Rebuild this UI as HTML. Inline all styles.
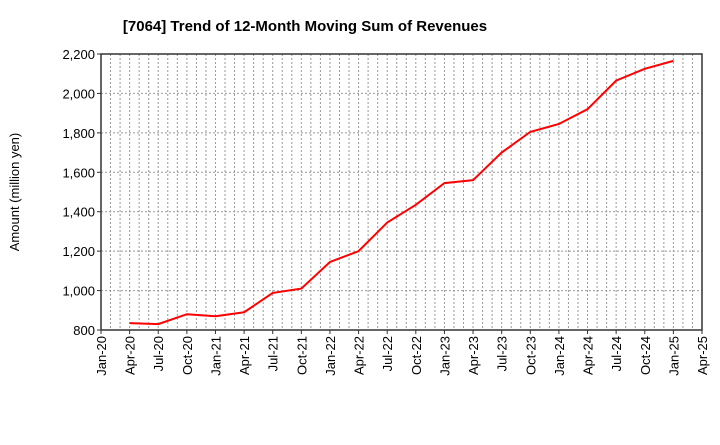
<!DOCTYPE html>
<html><head><meta charset="utf-8"><style>body{margin:0;background:#fff}svg text{font-family:"Liberation Sans",sans-serif}</style></head>
<body>
<svg id="c" width="720" height="440">
<text x="305" y="31" text-anchor="middle" font-size="15" font-weight="bold">[7064]  Trend of 12-Month Moving Sum of Revenues</text>
<text transform="translate(19,192) rotate(-90)" text-anchor="middle" font-size="13">Amount (million yen)</text>
<g id="g"></g>
</svg>
<script>
const xLabels=["Jan-20","Apr-20","Jul-20","Oct-20","Jan-21","Apr-21","Jul-21","Oct-21","Jan-22","Apr-22","Jul-22","Oct-22","Jan-23","Apr-23","Jul-23","Oct-23","Jan-24","Apr-24","Jul-24","Oct-24","Jan-25","Apr-25"];
const yTicks=[800,1000,1200,1400,1600,1800,2000,2200];
const values=[835,830,880,870,890,988,1010,1145,1200,1345,1435,1545,1560,1700,1805,1845,1920,2065,2125,2165];
const L=101,R=702,T=54,B=330,ns="http://www.w3.org/2000/svg",g=document.getElementById('g');
const xq=i=>L+(R-L)*i/21, y=v=>B-(v-800)/1400*(B-T);
function mk(t,a,txt){const e=document.createElementNS(ns,t);for(const k in a)e.setAttribute(k,a[k]);if(txt!=null)e.textContent=txt;g.appendChild(e);return e;}
for(let m=1;m<63;m++){const e=mk('line',{x1:L+(R-L)*m/63,x2:L+(R-L)*m/63,y1:T,y2:B,stroke:'#999','stroke-dasharray':'2,2'});

}
yTicks.forEach(v=>{const e=mk('line',{x1:L,x2:R,y1:y(v),y2:y(v),stroke:'#999','stroke-dasharray':'2,2'});


const t=mk('text',{x:L-6,y:y(v)+5,'text-anchor':'end','font-size':'13'},v.toLocaleString('en-US'));


const k=mk('line',{x1:L-4,x2:L,y1:y(v),y2:y(v),stroke:'#333'});

});
xLabels.forEach((s,i)=>{const t=mk('text',{transform:`translate(${xq(i)+5},${B+6}) rotate(-90)`,'text-anchor':'end','font-size':'13'},s);


const k=mk('line',{x1:xq(i),x2:xq(i),y1:B,y2:B+4,stroke:'#333'});

});
const f=mk('rect',{x:L,y:T,width:R-L,height:B-T,fill:'none',stroke:'#333','stroke-width':1.5});


const p=mk('polyline',{points:values.map((v,i)=>xq(i+1)+','+y(v)).join(' '),fill:'none',stroke:'#f00','stroke-width':2});


</script>
</body></html>
